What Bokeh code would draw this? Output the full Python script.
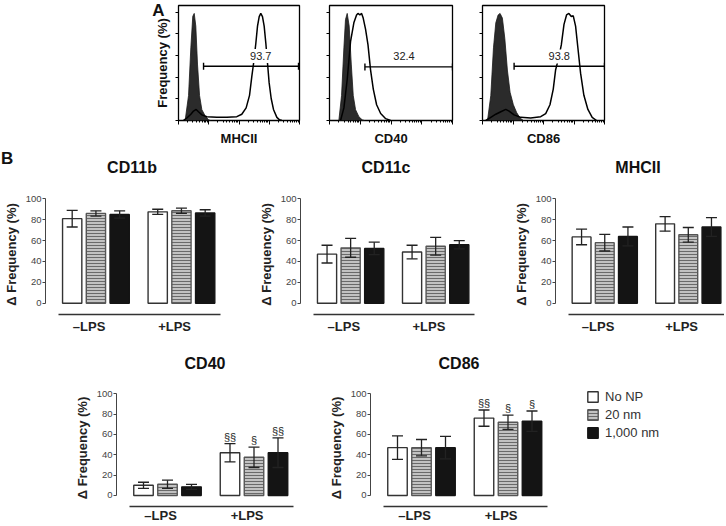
import math
from bokeh.plotting import figure
from bokeh.layouts import row, column
from bokeh.models import (Range1d, FixedTicker, ColumnDataSource, Whisker, TeeHead,
                          Label, Legend, LegendItem, Arrow, LinearAxis)
from bokeh.embed import file_html
from bokeh.resources import INLINE
from bokeh.core.properties import value

FONT = "Liberation Sans"

# ======================= DATA =======================
# ---- Panel A: flow-cytometry histograms (x: channel 0-100, y: 0-106) ----
hist_markers = ["MHCII", "CD40", "CD86"]
hist_gate_text = ["93.7", "32.4", "93.8"]
hist_gate_start = [20.7, 28.8, 25.9]
hist_gate_end = [99.2, 100.0, 100.0]
hist_gate_level = [50.0, 49.4, 50.0]
hist_text_x = [68.0, 60.6, 62.9]
hist_text_y = [59.5, 59.0, 59.0]

mhcii_iso_x = [5.5, 8.3, 10.2, 11.8, 13.0, 14.3, 15.7, 17.4, 19.3, 22.0, 24.8, 26.5]
mhcii_iso_y = [0, 23, 67, 96, 98.7, 87, 52, 23, 10, 4.4, 0.6, 0]
mhcii_pos_x = [4, 6.9, 10.2, 12.4, 14.6, 16.5, 19.3, 23.4, 31.7, 40, 48.2, 52.3, 55.9, 58.7,
               60.6, 62, 63.9, 65.3, 66.7, 68, 69.4, 70.8, 72.2, 73.6, 74.9, 76.6, 78.5,
               81.3, 83.5, 85.5]
mhcii_pos_y = [0, 2.3, 5.8, 8.7, 10.2, 8.1, 5.2, 3.5, 2.9, 2.9, 3.5, 5.8, 11.6, 23.2,
               40.7, 52.3, 71, 87, 95.8, 98.7, 95.8, 87, 71, 52.3, 34.9, 20.3, 10.2,
               2.9, 0.6, 0]

cd40_iso_x = [7.6, 9.8, 11.7, 13.0, 14.4, 16.0, 17.7, 19.3, 21.2, 23.9, 26.6, 28.5]
cd40_iso_y = [0, 23, 67, 93, 98.7, 87, 52, 23, 10, 3.5, 0.6, 0]
cd40_pos_x = [9, 11.7, 14.4, 17.1, 19.8, 22.0, 23.1, 24.7, 26.1, 27.4, 29.3, 31.3, 33.4,
              35.6, 38.3, 41.6, 45.7, 49.7]
cd40_pos_y = [0, 11.6, 37.8, 72.6, 90, 97.3, 98.7, 97.3, 98.7, 94.4, 84.2, 69.7, 46.5,
              29, 14.5, 6.4, 1.7, 0]

cd86_iso_x = [4.1, 6.8, 9.0, 10.9, 12.8, 14.4, 16.3, 18.3, 20.4, 22.6, 25.3, 28.0, 30.8, 33.5]
cd86_iso_y = [0, 23, 67, 90, 97.3, 98.7, 94.4, 75.5, 46.5, 26, 14.5, 7.3, 2.3, 0]
cd86_pos_x = [2.7, 6.8, 10.9, 15, 19.1, 21.8, 25.9, 31.3, 39.5, 47.7, 51.8, 55.3, 58, 59.9,
              62.5, 64.6, 66.8, 68.9, 70.8, 72.8, 74.4, 76.3, 78.2, 80.4, 83.1, 86.4, 89.9, 93.5]
cd86_pos_y = [0, 2.9, 5.8, 8.1, 10.2, 8.7, 5.2, 2.9, 2.3, 3.5, 6.4, 14.5, 29, 46.5,
              58, 69.7, 88.6, 97.3, 98.7, 95.8, 96.5, 87, 66.8, 43.6, 23.2, 10.2, 2.9, 0]

# ---- Panel B: bar charts (mean, error) ordered [series][group] ----
groups = ["\u2013LPS", "+LPS"]
series = ["No NP", "20 nm", "1,000 nm"]
panels = ["CD11b", "CD11c", "MHCII", "CD40", "CD86"]

cd11b_mean = [[81, 87.5], [86, 88.5], [85, 86.5]]
cd11b_err = [[8, 2.5], [2.5, 2.5], [3.5, 3]]
cd11c_mean = [[47, 49], [53, 54.5], [52.5, 56]]
cd11c_err = [[8.5, 6.5], [9, 8.5], [6, 4]]
mhcii_mean = [[63.5, 76], [58, 65.5], [64, 73]]
mhcii_err = [[7.5, 7], [8, 7], [9, 9]]
cd40_mean = [[10, 42], [11, 37.5], [8.5, 42]]
cd40_err = [[3, 9], [4, 10], [2.5, 14.5]]
cd86_mean = [[47, 76], [47, 72], [47, 73]]
cd86_err = [[11.5, 8], [8, 7], [11, 10]]
cd40_sig = [["", "\u00a7\u00a7"], ["", "\u00a7"], ["", "\u00a7\u00a7"]]
cd86_sig = [["", "\u00a7\u00a7"], ["", "\u00a7"], ["", "\u00a7"]]

# ======================= LAYOUT CONSTANTS =======================
HIST_FRAME_H = 122
HIST_TOP = 5
HIST_BOTTOM = 21
HIST_YMAX = 106
A_TICK = 102

GROUP_PX = 86.5
BAR_FRAME_W = 177
X_START = -51.0 / GROUP_PX
BAR_OFFSETS = [-0.2775, 0.0, 0.2775]
BAR_WIDTH = 0.2254
LABEL_SHIFT = -0.08
AXIS_LINE = (-0.439, 1.451)
BAR_FRAME_H = 120
PX_PER_UNIT = 1.044
Y_START = -11.3 / PX_PER_UNIT
Y_END = Y_START + BAR_FRAME_H / PX_PER_UNIT
TITLE_DX = 88.5

BAR_STYLES = [
    dict(fill_color="white", line_color="#333333", line_width=1.4),
    dict(fill_color="#c2c2c2", line_color="#555555", line_width=1.4,
         hatch_pattern="horizontal_line", hatch_color="#6a6a6a", hatch_scale=3, hatch_weight=1),
    dict(fill_color="#141414", line_color="#141414", line_width=1.4),
]


def hide_labels(ax):
    ax.major_label_text_color = None
    ax.major_label_text_font_size = "1px"
    ax.major_label_standoff = 0


def hist_chart(i, width, left, frame_w, iso_x, iso_y, pos_x, pos_y, ylabel=None, letter=None):
    p = figure(width=width, height=HIST_TOP + HIST_FRAME_H + HIST_BOTTOM,
               x_range=Range1d(0, 100), y_range=Range1d(0, HIST_YMAX),
               min_border_left=left, min_border_right=width - left - frame_w,
               min_border_top=HIST_TOP, min_border_bottom=HIST_BOTTOM,
               output_backend="svg", toolbar_location=None)
    p.grid.visible = False
    p.outline_line_color = "black"
    p.outline_line_width = 1.3
    p.background_fill_color = "white"
    p.border_fill_color = "white"
    p.patch(iso_x, iso_y, fill_color="#2b2b2b", line_color="#1a1a1a", line_width=0.8)
    p.line(pos_x, pos_y, line_color="black", line_width=1.5)
    p.add_layout(Arrow(start=TeeHead(size=7, line_width=1.4), end=TeeHead(size=7, line_width=1.4),
                       x_start=hist_gate_start[i], y_start=hist_gate_level[i],
                       x_end=hist_gate_end[i], y_end=hist_gate_level[i], line_width=1.4))
    p.add_layout(Label(x=hist_text_x[i], y=hist_text_y[i], text=hist_gate_text[i],
                       text_align="center", text_baseline="middle", text_font=FONT,
                       text_font_size="11px", text_color="#222222",
                       background_fill_color="white", padding=3))
    minors = [d * 25 + 25 * math.log10(k) for d in range(4) for k in range(2, 10)]
    xa = p.xaxis[0]
    xa.ticker = FixedTicker(ticks=[0, 25, 50, 75, 100], minor_ticks=minors)
    xa.major_tick_out = 4
    xa.major_tick_in = 0
    xa.minor_tick_out = 2
    xa.minor_tick_in = 0
    xa.axis_line_color = None
    hide_labels(xa)
    xa.axis_label = hist_markers[i]
    xa.axis_label_text_font = FONT
    xa.axis_label_text_font_size = "13px"
    xa.axis_label_text_font_style = "bold"
    xa.axis_label_text_color = "#111111"
    xa.axis_label_standoff = 6
    ya = p.yaxis[0]
    ya.ticker = FixedTicker(ticks=[0, 20, 40, 60, 80, 100])
    ya.major_tick_out = 3
    ya.major_tick_in = 0
    ya.minor_tick_out = 0
    ya.minor_tick_in = 0
    ya.axis_line_color = None
    hide_labels(ya)
    if ylabel:
        ya.axis_label = ylabel
        ya.axis_label_text_font = FONT
        ya.axis_label_text_font_size = "13px"
        ya.axis_label_text_font_style = "bold"
        ya.axis_label_text_color = "#111111"
        ya.axis_label_standoff = 6
    if letter:
        la = LinearAxis(ticker=FixedTicker(ticks=[A_TICK]),
                        major_label_overrides={A_TICK: letter},
                        axis_line_color=None, major_tick_line_color=None,
                        minor_tick_line_color=None, major_tick_out=0, major_tick_in=0,
                        minor_tick_out=0, minor_tick_in=0, major_label_standoff=-13,
                        major_label_text_font=FONT, major_label_text_font_size="17px",
                        major_label_text_font_style="bold", major_label_text_color="#111111",
                        major_label_orientation="horizontal")
        p.add_layout(la, "left")
    return p


def bar_chart(means, errs, sig, width, left, frame_w, top, bottom, label_standoff):
    p = figure(width=width, height=top + BAR_FRAME_H + bottom,
               x_range=Range1d(X_START, X_START + frame_w / GROUP_PX),
               y_range=Range1d(Y_START, Y_END),
               min_border_left=left, min_border_right=width - left - frame_w,
               min_border_top=top, min_border_bottom=bottom,
               output_backend="svg", toolbar_location=None)
    p.grid.visible = False
    p.outline_line_color = None
    p.background_fill_color = "white"
    p.border_fill_color = "white"
    rends = []
    for s in range(len(series)):
        xs = [g + BAR_OFFSETS[s] for g in range(len(groups))]
        data = dict(x=xs, top=means[s],
                    upper=[m + e for m, e in zip(means[s], errs[s])],
                    lower=[m - e for m, e in zip(means[s], errs[s])])
        if sig is not None:
            data["sig"] = sig[s]
        src = ColumnDataSource(data)
        r = p.vbar(x="x", top="top", bottom=0, width=BAR_WIDTH, source=src, **BAR_STYLES[s])
        rends.append(r)
        p.add_layout(Whisker(source=src, base="x", upper="upper", lower="lower",
                             dimension="height", level="annotation",
                             line_color="#222222", line_width=1.3,
                             upper_head=TeeHead(size=11, line_color="#222222", line_width=1.3),
                             lower_head=TeeHead(size=11, line_color="#222222", line_width=1.3)))
        if sig is not None:
            p.text(x="x", y="upper", text="sig", source=src, text_align="center",
                   text_baseline="bottom", y_offset=-1, text_font=value(FONT),
                   text_font_size="11px", text_color="#222222")
    ya = p.yaxis[0]
    ya.ticker = FixedTicker(ticks=[0, 20, 40, 60, 80, 100])
    ya.bounds = (0, 100)
    ya.axis_label = "\u0394 Frequency (%)"
    ya.axis_label_text_font = FONT
    ya.axis_label_text_font_size = "13px"
    ya.axis_label_text_font_style = "bold"
    ya.axis_label_text_color = "#222222"
    ya.axis_label_standoff = 4
    ya.major_label_text_font = FONT
    ya.major_label_text_font_size = "9.5px"
    ya.major_label_text_color = "#444444"
    ya.major_label_standoff = 1
    ya.major_tick_out = 3
    ya.major_tick_in = 0
    ya.minor_tick_out = 0
    ya.minor_tick_in = 0
    ya.axis_line_color = "#444444"
    ya.major_tick_line_color = "#444444"
    xa = p.xaxis[0]
    tick_pos = [g + LABEL_SHIFT for g in range(len(groups))]
    xa.ticker = FixedTicker(ticks=tick_pos)
    xa.major_label_overrides = {t: lab for t, lab in zip(tick_pos, groups)}
    xa.bounds = AXIS_LINE
    xa.major_tick_out = 0
    xa.major_tick_in = 0
    xa.minor_tick_out = 0
    xa.minor_tick_in = 0
    xa.axis_line_color = "#333333"
    xa.axis_line_width = 1.3
    xa.major_label_text_font = FONT
    xa.major_label_text_font_size = "13px"
    xa.major_label_text_font_style = "bold"
    xa.major_label_text_color = "#222222"
    xa.major_label_standoff = label_standoff
    return p, rends


def text_strip(width, height, items):
    """A figure whose frame is the whole strip; items: (x, y, text, size, align)."""
    p = figure(width=width, height=height, x_range=Range1d(0, width), y_range=Range1d(height, 0),
               min_border=0, x_axis_location=None, y_axis_location=None,
               output_backend="svg", toolbar_location=None)
    p.grid.visible = False
    p.outline_line_color = None
    p.background_fill_color = "white"
    p.border_fill_color = "white"
    for x, y, text, size, align in items:
        p.add_layout(Label(x=x, y=y, text=text, text_align=align, text_baseline="middle",
                           text_font=FONT, text_font_size=size, text_font_style="bold",
                           text_color="#111111"))
    return p


# ---------------- Panel A ----------------
h1 = hist_chart(0, 314, 178, 121, mhcii_iso_x, mhcii_iso_y, mhcii_pos_x, mhcii_pos_y,
                ylabel="Frequency (%)", letter="A")
h2 = hist_chart(1, 152, 15, 123, cd40_iso_x, cd40_iso_y, cd40_pos_x, cd40_pos_y)
h3 = hist_chart(2, 154, 16, 122, cd86_iso_x, cd86_iso_y, cd86_pos_x, cd86_pos_y)

# ---------------- Panel B, row 1 ----------------
row1_specs = [(255, 43, BAR_FRAME_W), (255, 42, BAR_FRAME_W), (214, 39, 175)]
row1_data = [(cd11b_mean, cd11b_err), (cd11c_mean, cd11c_err), (mhcii_mean, mhcii_err)]
charts1 = []
title_x1 = []
x0 = 0
for (w, l, fw), (m, e) in zip(row1_specs, row1_data):
    c, _ = bar_chart(m, e, None, w, l, fw, 14, 24, 4)
    charts1.append(c)
    title_x1.append(x0 + l + TITLE_DX)
    x0 += w
strip1 = text_strip(724, 32, [(0.5, 10, "B", "17px", "left")] +
                    [(tx, 19, panels[k], "16px", "center") for k, tx in enumerate(title_x1)])

# ---------------- Panel B, row 2 ----------------
c4, _ = bar_chart(cd40_mean, cd40_err, cd40_sig, 296, 116, BAR_FRAME_W, 18, 16, 1)
c5, r5 = bar_chart(cd86_mean, cd86_err, cd86_sig, 428, 74, 354, 18, 16, 1)
strip2 = text_strip(724, 33, [(116 + TITLE_DX, 25, panels[3], "16px", "center"),
                              (296 + 74 + TITLE_DX, 25, panels[4], "16px", "center")])

legend = Legend(items=[LegendItem(label=series[i], renderers=[r5[i]]) for i in range(len(series))],
                location=(216, 66), orientation="vertical", glyph_width=13, glyph_height=13,
                label_height=13, label_standoff=6, spacing=3, padding=0, margin=0,
                border_line_color=None, background_fill_alpha=0,
                label_text_font=FONT, label_text_font_size="13px", label_text_color="#333333")
c5.add_layout(legend)

layout = column(row(h1, h2, h3), strip1, row(*charts1), strip2, row(c4, c5))
open("out.html", "w").write(file_html(layout, INLINE))
